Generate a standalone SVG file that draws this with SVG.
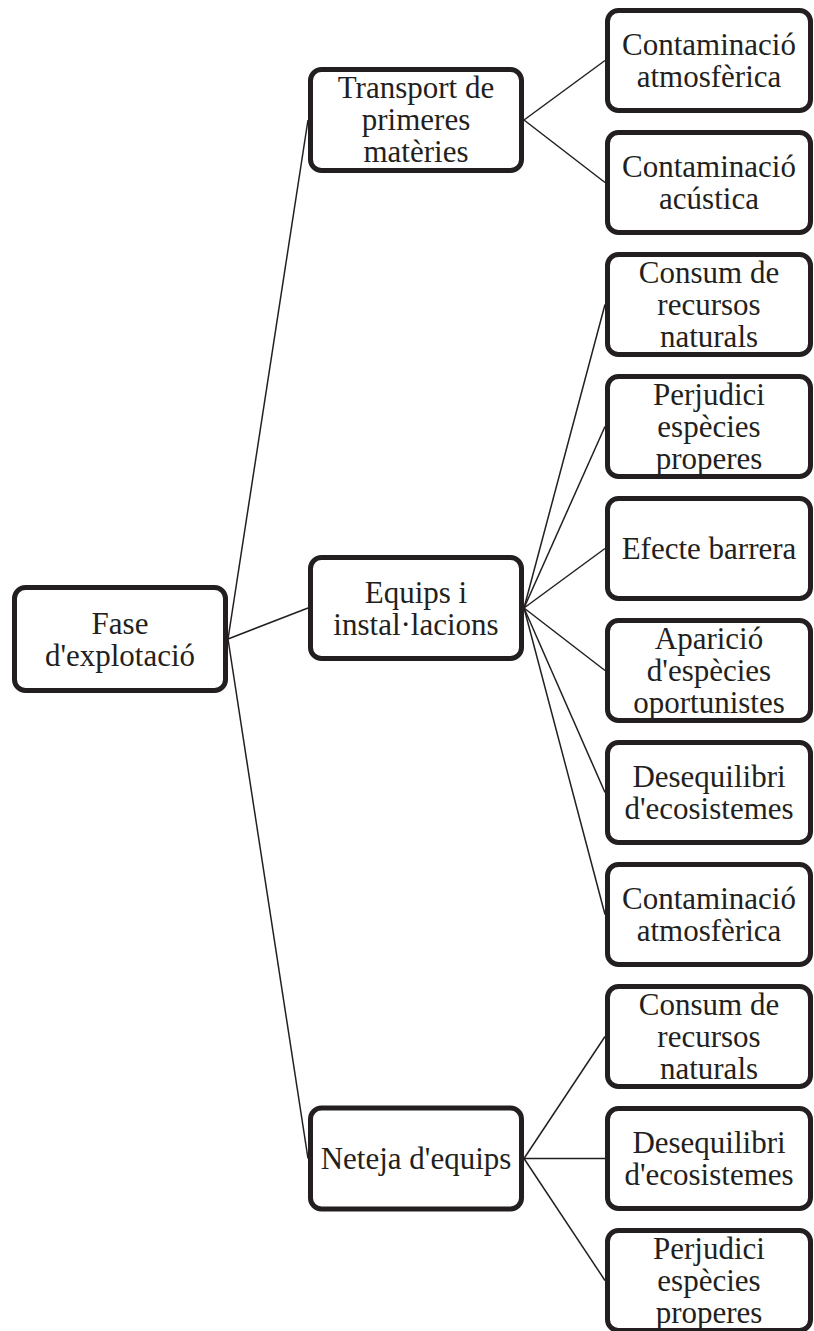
<svg xmlns="http://www.w3.org/2000/svg" width="814" height="1331" viewBox="0 0 814 1331">
<style>
.box{fill:#fff;stroke:#231f20;stroke-width:5}
.t{font-family:"Liberation Serif","Times New Roman",serif;font-size:31px;fill:#231f20;text-anchor:middle}
.c{stroke:#231f20;stroke-width:1.5;fill:none}
</style>
<rect width="814" height="1331" fill="#fff"/>
<g id="connectors">
<line class="c" x1="228" y1="639" x2="308" y2="120"/>
<line class="c" x1="228" y1="639" x2="308" y2="608"/>
<line class="c" x1="228" y1="639" x2="308" y2="1158.5"/>
<line class="c" x1="524" y1="120" x2="605" y2="60.5"/>
<line class="c" x1="524" y1="120" x2="605" y2="182.5"/>
<line class="c" x1="524" y1="608" x2="605" y2="304.5"/>
<line class="c" x1="524" y1="608" x2="605" y2="426.5"/>
<line class="c" x1="524" y1="608" x2="605" y2="548.5"/>
<line class="c" x1="524" y1="608" x2="605" y2="670.5"/>
<line class="c" x1="524" y1="608" x2="605" y2="792.5"/>
<line class="c" x1="524" y1="608" x2="605" y2="914.5"/>
<line class="c" x1="524" y1="1158.5" x2="605" y2="1036.5"/>
<line class="c" x1="524" y1="1158.5" x2="605" y2="1158.5"/>
<line class="c" x1="524" y1="1158.5" x2="605" y2="1280.5"/>
</g>
<g id="root">
<rect class="box" x="14.5" y="587.5" width="211" height="103" rx="11"/>
<text class="t" x="120" y="633.5">Fase</text>
<text class="t" x="120" y="665.5">d'explotació</text>
</g>
<g id="transport">
<rect class="box" x="310.5" y="69.5" width="211" height="101" rx="11"/>
<text class="t" x="416" y="98">Transport de</text>
<text class="t" x="416" y="130">primeres</text>
<text class="t" x="416" y="162">matèries</text>
</g>
<g id="equips">
<rect class="box" x="310.5" y="557.5" width="211" height="101" rx="11"/>
<text class="t" x="416" y="602.5">Equips i</text>
<text class="t" x="416" y="634.5">instal·lacions</text>
</g>
<g id="neteja">
<rect class="box" x="310.5" y="1108" width="211" height="101" rx="11"/>
<text class="t" x="416" y="1169">Neteja d'equips</text>
</g>
<g id="leaf1">
<rect class="box" x="607.5" y="10.5" width="203" height="100" rx="11"/>
<text class="t" x="709" y="55">Contaminació</text>
<text class="t" x="709" y="87">atmosfèrica</text>
</g>
<g id="leaf2">
<rect class="box" x="607.5" y="132.5" width="203" height="100" rx="11"/>
<text class="t" x="709" y="177">Contaminació</text>
<text class="t" x="709" y="209">acústica</text>
</g>
<g id="leaf3">
<rect class="box" x="607.5" y="254.5" width="203" height="100" rx="11"/>
<text class="t" x="709" y="283">Consum de</text>
<text class="t" x="709" y="315">recursos</text>
<text class="t" x="709" y="347">naturals</text>
</g>
<g id="leaf4">
<rect class="box" x="607.5" y="376.5" width="203" height="100" rx="11"/>
<text class="t" x="709" y="405">Perjudici</text>
<text class="t" x="709" y="437">espècies</text>
<text class="t" x="709" y="469">properes</text>
</g>
<g id="leaf5">
<rect class="box" x="607.5" y="498.5" width="203" height="100" rx="11"/>
<text class="t" x="709" y="559">Efecte barrera</text>
</g>
<g id="leaf6">
<rect class="box" x="607.5" y="620.5" width="203" height="100" rx="11"/>
<text class="t" x="709" y="649">Aparició</text>
<text class="t" x="709" y="681">d'espècies</text>
<text class="t" x="709" y="713">oportunistes</text>
</g>
<g id="leaf7">
<rect class="box" x="607.5" y="742.5" width="203" height="100" rx="11"/>
<text class="t" x="709" y="787">Desequilibri</text>
<text class="t" x="709" y="819">d'ecosistemes</text>
</g>
<g id="leaf8">
<rect class="box" x="607.5" y="864.5" width="203" height="100" rx="11"/>
<text class="t" x="709" y="909">Contaminació</text>
<text class="t" x="709" y="941">atmosfèrica</text>
</g>
<g id="leaf9">
<rect class="box" x="607.5" y="986.5" width="203" height="100" rx="11"/>
<text class="t" x="709" y="1015">Consum de</text>
<text class="t" x="709" y="1047">recursos</text>
<text class="t" x="709" y="1079">naturals</text>
</g>
<g id="leaf10">
<rect class="box" x="607.5" y="1108.5" width="203" height="100" rx="11"/>
<text class="t" x="709" y="1153">Desequilibri</text>
<text class="t" x="709" y="1185">d'ecosistemes</text>
</g>
<g id="leaf11">
<rect class="box" x="607.5" y="1230.5" width="203" height="100" rx="11"/>
<text class="t" x="709" y="1259">Perjudici</text>
<text class="t" x="709" y="1291">espècies</text>
<text class="t" x="709" y="1323">properes</text>
</g>
</svg>
